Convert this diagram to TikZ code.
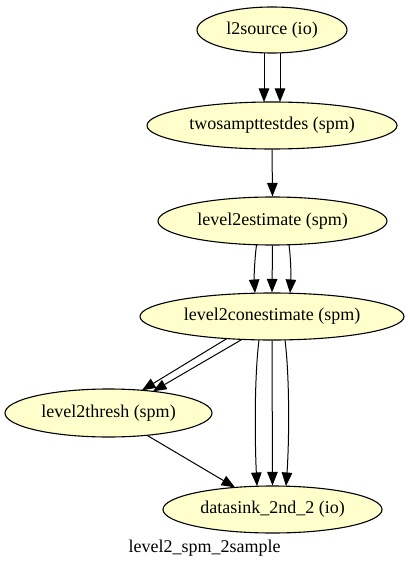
\documentclass[tikz,border=0pt]{standalone}
\usepackage{fontspec}
\setmainfont{Liberation Serif}
\usetikzlibrary{shapes.geometric,arrows.meta}
\definecolor{nodefill}{HTML}{FFFFCC}
\begin{document}
\begin{tikzpicture}[x=1pt,y=-1pt,
  gnode/.style={ellipse,draw=black,line width=1.1pt,fill=nodefill,inner sep=0pt,
    font=\fontsize{18}{20}\selectfont},
  conn/.style={draw=black,line width=1pt,-{Triangle[length=13.5pt,width=10.5pt]}}]
\fill[white] (0,0) rectangle (409,569);
\useasboundingbox (0,0) rectangle (409,569);
\node[gnode,minimum width=150pt,minimum height=46pt] (src) at (272,30) {l2source (io)};
\node[gnode,minimum width=250pt,minimum height=47pt] (des) at (272,125.5) {twosampttestdes (spm)};
\node[gnode,minimum width=229pt,minimum height=48pt] (est) at (272.5,221) {level2estimate (spm)};
\node[gnode,minimum width=264pt,minimum height=47pt] (con) at (272,316.5) {level2conestimate (spm)};
\node[gnode,minimum width=207pt,minimum height=48pt] (thr) at (108.5,413) {level2thresh (spm)};
\node[gnode,minimum width=219pt,minimum height=47pt] (snk) at (272.5,509.5) {datasink\_2nd\_2 (io)};
\node[font=\fontsize{18}{20}\selectfont] (lbl) at (204.5,548) {level2\_spm\_2sample};
% l2source -> twosampttestdes
\draw[conn] ([shift={(-8,23)}]src.center) -- ([shift={(-8,-23.5)}]des.center);
\draw[conn] ([shift={(8,23)}]src.center) -- ([shift={(8,-23.5)}]des.center);
% twosampttestdes -> level2estimate
\draw[conn] (des.south) -- (est.north);
% level2estimate -> level2conestimate
\draw[conn] ([shift={(-16,24)}]est.center) .. controls +(-2,15) and +(-1,-15) .. ([shift={(-17,-23.5)}]con.center);
\draw[conn] (est.south) -- (con.north);
\draw[conn] ([shift={(16.5,24)}]est.center) .. controls +(2,15) and +(1,-15) .. ([shift={(18,-23.5)}]con.center);
% level2conestimate -> level2thresh
\draw[conn] ([shift={(-45,22)}]con.center) -- ([shift={(33.5,-22.7)}]thr.center);
\draw[conn] ([shift={(-30,22.9)}]con.center) -- ([shift={(44.5,-21.7)}]thr.center);
% level2conestimate -> datasink
\draw[conn] ([shift={(-13,23.5)}]con.center) .. controls +(-5,40) and +(-2,-40) .. ([shift={(-15.5,-23.5)}]snk.center);
\draw[conn] (con.south) -- (snk.north);
\draw[conn] ([shift={(13,23.5)}]con.center) .. controls +(5,40) and +(3,-40) .. ([shift={(13.5,-23.5)}]snk.center);
% level2thresh -> datasink
\draw[conn] ([shift={(38.5,22.3)}]thr.center) -- ([shift={(-37.5,-22.1)}]snk.center);
\end{tikzpicture}
\end{document}
